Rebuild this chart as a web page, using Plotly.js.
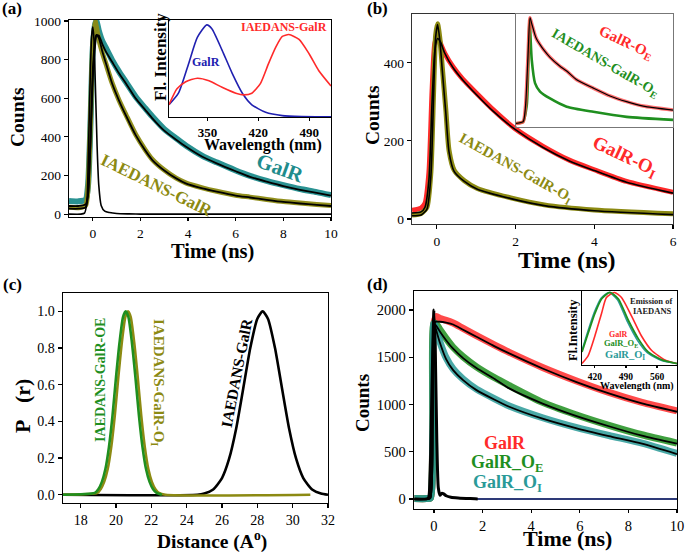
<!DOCTYPE html>
<html>
<head>
<meta charset="utf-8">
<script src="https://cdn.plot.ly/plotly-3.0.1.min.js"></script>
<style>html,body{margin:0;padding:0;background:#fff;}#plot{width:685px;height:552px;}</style>
</head>
<body>
<div id="plot"></div>
<script>
// ---------- Panel (a): decay of GalR and IAEDANS-GalR ----------
const tA        = [-1, -0.6, -0.3, -0.2, -0.1, 0, 0.1, 0.15, 0.25, 0.4, 0.55, 0.8, 1.1, 1.4, 1.8, 2.2, 2.5, 3.0, 3.5, 3.9, 4.6, 5.2, 6.0, 6.6, 7.3, 8.0, 8.7, 9.4, 10];
const galrData  = [68, 66, 75, 150, 460, 860, 985, 1000, 950, 895, 860, 800, 738, 682, 608, 548, 505, 440, 392, 355, 302, 268, 226, 198, 172, 150, 130, 114, 98];
const galrFit   = [42, 42, 50, 100, 350, 700, 880, 925, 925, 880, 841, 790, 729, 675, 599, 540, 496, 432, 385, 350, 297, 263, 222, 193, 168, 145, 126, 110, 96];
const iaeData   = [35, 33, 45, 140, 480, 880, 1000, 970, 905, 835, 778, 682, 590, 512, 412, 333, 283, 228, 186, 162, 136, 118, 98, 88, 76, 65, 57, 50, 45];
const iaeFit    = [28, 28, 35, 100, 380, 750, 905, 928, 912, 842, 781, 680, 588, 508, 409, 330, 280, 226, 185, 159, 133, 116, 96, 86, 74, 63, 55, 48, 42];
const tIrfA     = [-1, -0.5, -0.35, -0.25, -0.18, -0.1, -0.05, 0, 0.05, 0.1, 0.18, 0.25, 0.35, 0.5, 0.7, 1.0, 1.5, 2, 10];
const irfA      = [0, 0, 5, 60, 350, 750, 920, 970, 900, 700, 350, 150, 45, 15, 8, 3, 1, 0, 0];
// inset (a): emission spectra
const wlGalR    = [297, 310, 324, 336, 349, 356, 370, 384, 398, 411, 430, 453, 480, 520];
const emGalR    = [0.126, 0.245, 0.55, 0.82, 0.95, 0.91, 0.69, 0.45, 0.245, 0.126, 0.048, 0.014, 0.005, 0.003];
const wlIae     = [297, 308, 320, 336, 352, 370, 389, 400, 411, 423, 434, 444, 453, 462, 476, 490, 503, 520];
const emIae     = [0.126, 0.29, 0.364, 0.40, 0.374, 0.306, 0.245, 0.228, 0.245, 0.347, 0.55, 0.72, 0.83, 0.85, 0.80, 0.65, 0.48, 0.32];

// ---------- Panel (b) ----------
const tB        = [-0.63, -0.4, -0.3, -0.2, -0.12, -0.05, 0.02, 0.1, 0.2, 0.41, 0.66, 1.01, 1.43, 1.98, 2.7, 3.38, 4.0, 4.82, 6.0];
const oiRedData = [22, 28, 40, 120, 330, 450, 468, 448, 425, 390, 358, 322, 280, 232, 186, 150, 126, 96, 68];
const oiRedFit  = [15, 18, 30, 100, 300, 430, 462, 452, 425, 388, 356, 318, 276, 230, 183, 148, 124, 94, 66];
const tB2       = [-0.63, -0.4, -0.25, -0.15, -0.08, -0.03, 0.02, 0.08, 0.14, 0.23, 0.31, 0.44, 0.7, 1.03, 1.88, 2.73, 4.0, 6.0];
const oiOlvData = [10, 14, 30, 120, 330, 470, 500, 460, 388, 278, 176, 125, 98, 78, 54, 36, 23, 13];
const oiOlvFit  = [8, 10, 25, 110, 320, 465, 498, 455, 380, 270, 172, 122, 96, 76, 52, 34, 21, 11];
// inset (b)
const tBiR      = [-0.6, -0.3, -0.2, -0.1, -0.01, 0.06, 0.2, 0.27, 0.41, 0.55, 0.83, 1.25, 1.53, 1.95, 2.65, 3.35, 4.05, 4.75, 6.0];
const oeRed     = [-0.017, 0.0, 0.15, 0.6, 0.985, 0.93, 0.82, 0.78, 0.73, 0.685, 0.61, 0.525, 0.48, 0.397, 0.318, 0.244, 0.19, 0.148, 0.11];
const tBiG      = [-0.6, -0.3, -0.15, -0.08, -0.03, 0.06, 0.2, 0.41, 0.83, 1.53, 2.65, 4.05, 6.0];
const oeGreen   = [-0.015, 0.0, 0.15, 0.55, 0.97, 0.59, 0.366, 0.285, 0.22, 0.142, 0.094, 0.046, 0.017];

// ---------- Panel (c): distance distributions ----------
const rOE       = [17, 18.8, 19.0, 19.2, 19.4, 19.6, 19.8, 20.0, 20.2, 20.4, 20.55, 20.7, 20.9, 21.1, 21.3, 21.5, 21.7, 21.9, 22.1, 22.3, 22.6];
const pOE       = [0, 0.01, 0.03, 0.07, 0.14, 0.26, 0.43, 0.64, 0.83, 0.97, 1.0, 0.97, 0.83, 0.64, 0.43, 0.26, 0.14, 0.07, 0.03, 0.01, 0];
const rOI       = [17, 18.95, 19.13, 19.33, 19.53, 19.73, 19.93, 20.13, 20.33, 20.53, 20.68, 20.83, 21.03, 21.23, 21.43, 21.63, 21.83, 22.03, 22.23, 22.43, 22.8, 31];
const pOI       = [0, 0.01, 0.03, 0.07, 0.14, 0.26, 0.43, 0.64, 0.83, 0.97, 1.0, 0.97, 0.83, 0.64, 0.43, 0.26, 0.14, 0.07, 0.03, 0.01, 0, 0];
const rGalR     = [17, 24.6, 25.0, 25.5, 26.0, 26.4, 26.8, 27.2, 27.6, 28.0, 28.3, 28.6, 29.0, 29.4, 29.8, 30.2, 30.6, 31.1, 31.6, 32];
const pGalR     = [0, 0, 0.007, 0.029, 0.091, 0.195, 0.36, 0.578, 0.80, 0.96, 1.0, 0.96, 0.80, 0.578, 0.36, 0.195, 0.091, 0.029, 0.007, 0];

// ---------- Panel (d) ----------
const tD        = [-0.8, -0.3, -0.15, -0.05, 0, 0.1, 0.25, 0.5, 0.79, 1.2, 1.75, 2.5, 3.1, 4.47, 5.84, 7.2, 8.56, 10];
const dRedData  = [5, 5, 10, 700, 1860, 1930, 1910, 1890, 1862, 1805, 1728, 1628, 1552, 1392, 1252, 1128, 1022, 932];
const dRedFit   = [0, 0, 10, 800, 1860, 1875, 1875, 1865, 1846, 1790, 1716, 1615, 1540, 1381, 1240, 1117, 1011, 923];
const dOEData   = [5, 5, 10, 700, 1860, 1850, 1790, 1700, 1605, 1505, 1398, 1282, 1200, 1022, 892, 780, 680, 592];
const dOEFit    = [0, 0, 10, 800, 1860, 1830, 1770, 1680, 1590, 1490, 1385, 1270, 1170, 1010, 880, 770, 670, 585];
const dOIData   = [5, 5, 10, 700, 1860, 1790, 1660, 1495, 1375, 1268, 1162, 1060, 985, 860, 758, 672, 592, 482];
const dOIFit    = [0, 0, 10, 800, 1860, 1780, 1650, 1480, 1364, 1258, 1152, 1050, 976, 850, 750, 665, 585, 475];
const tIrfD     = [-0.8, -0.3, -0.22, -0.15, -0.08, 0, 0.06, 0.12, 0.18, 0.25, 0.32, 0.4, 0.5, 0.7, 1.0, 1.5, 1.8];
const irfD      = [0, 2, 15, 300, 1200, 2000, 1500, 600, 120, 40, 60, 55, 35, 20, 12, 5, 2];
const tBaseD    = [1.6, 10];
const baseD     = [2, 2];
// inset (d)
const wlDRed    = [391, 405, 420, 435, 446, 464, 480, 503, 525, 548, 578, 605];
const emDRed    = [0.02, 0.13, 0.40, 0.71, 0.93, 1.0, 0.93, 0.67, 0.40, 0.20, 0.07, 0.02];
const wlDOE     = [391, 405, 420, 435, 454, 473, 495, 518, 540, 571, 605];
const emDOE     = [0.18, 0.44, 0.71, 0.91, 1.0, 0.91, 0.62, 0.36, 0.18, 0.07, 0.02];
const wlDOI     = [391, 404, 419, 434, 452, 471, 493, 516, 538, 569, 605];
const emDOI     = [0.2, 0.46, 0.73, 0.92, 1.0, 0.9, 0.6, 0.34, 0.17, 0.065, 0.02];

// ---------- colours ----------
const TEAL = '#1f8c8c', OLIVE = '#8c8a12', RED = '#ff2a2a', BLUE = '#2020b0', GREEN = '#1f8f1f', DTEAL = '#2a9a98';

const W = 685, H = 552;
const dx = (a, b) => [a / W, b / W];
const dy = (a, b) => [1 - b / H, 1 - a / H];
const FONT = 'Liberation Serif';

function tf(size, bold) {
  const f = {family: FONT, size: size, color: 'black'};
  if (bold) f.weight = 'bold';
  return f;
}
function ax(o) {
  return Object.assign({
    showline: true, mirror: true, linecolor: 'black', linewidth: 1.4,
    ticks: 'outside', ticklen: 4, tickwidth: 1.2, tickcolor: 'black',
    showgrid: false, zeroline: false, tickfont: tf(14)
  }, o);
}
function ln(x, y, xa, ya, color, width, extra) {
  return Object.assign({x: x, y: y, xaxis: xa, yaxis: ya, mode: 'lines', hoverinfo: 'skip',
    line: {color: color, width: width, shape: 'spline', smoothing: 0.6}}, extra || {});
}

const traces = [
  // (a)
  ln(tA, galrData, 'x', 'y', TEAL, 6, {opacity: 0.95}),
  ln(tA, iaeData, 'x', 'y', OLIVE, 5, {opacity: 0.95}),
  ln(tIrfA, irfA, 'x', 'y', 'black', 1.6),
  ln(tA, galrFit, 'x', 'y', 'black', 1.8),
  ln(tA, iaeFit, 'x', 'y', 'black', 1.8),
  ln(wlGalR, emGalR, 'x2', 'y2', BLUE, 1.6),
  ln(wlIae, emIae, 'x2', 'y2', RED, 1.6),
  // (b)
  ln(tB, oiRedData, 'x3', 'y3', RED, 5),
  ln(tB2, oiOlvData, 'x3', 'y3', OLIVE, 5),
  ln(tB, oiRedFit, 'x3', 'y3', 'black', 1.6),
  ln(tB2, oiOlvFit, 'x3', 'y3', 'black', 1.6),
  ln(tBiG, oeGreen, 'x4', 'y4', GREEN, 2.6),
  ln(tBiR, oeRed, 'x4', 'y4', '#ff4040', 3.5, {opacity: 0.75}),
  ln(tBiR, oeRed, 'x4', 'y4', 'black', 1.2),
  // (c)
  ln(rGalR, pGalR, 'x5', 'y5', 'black', 2.6),
  ln(rOI, pOI, 'x5', 'y5', OLIVE, 2.6),
  ln(rOE, pOE, 'x5', 'y5', GREEN, 2.6),
  // (d)
  ln(tD, dRedData, 'x6', 'y6', RED, 7, {opacity: 0.85}),
  ln(tD, dOEData, 'x6', 'y6', GREEN, 7, {opacity: 0.85}),
  ln(tD, dOIData, 'x6', 'y6', DTEAL, 7, {opacity: 0.85}),
  ln(tD, dRedFit, 'x6', 'y6', 'black', 1.8),
  ln(tD, dOEFit, 'x6', 'y6', 'black', 1.8),
  ln(tD, dOIFit, 'x6', 'y6', 'black', 1.8),
  ln(tBaseD, baseD, 'x6', 'y6', '#2e3a78', 2),
  ln(tIrfD, irfD, 'x6', 'y6', 'black', 3),
  ln(wlDOI, emDOI, 'x7', 'y7', DTEAL, 1.6),
  ln(wlDRed, emDRed, 'x7', 'y7', RED, 1.6),
  ln(wlDOE, emDOE, 'x7', 'y7', GREEN, 1.8)
];

function A(text, px, py, size, color, angle, extra) {
  return Object.assign({text: text, xref: 'paper', yref: 'paper', x: px / W, y: 1 - py / H,
    xanchor: 'center', yanchor: 'middle', showarrow: false, textangle: angle || 0,
    font: {family: FONT, size: size, color: color}}, extra || {});
}

const annotations = [
  A('<b>(a)</b>', 12, 9, 17, 'black'),
  A('<b>(b)</b>', 377, 9, 17, 'black'),
  A('<b>(c)</b>', 12, 284, 17, 'black'),
  A('<b>(d)</b>', 377, 284, 17, 'black'),
  // (a)
  A('<b>Counts</b>', 18, 117, 19.5, 'black', -90),
  A('<b>Time (ns)</b>', 213, 251, 20.5, 'black'),
  A('<b>Fl. Intensity</b>', 160, 57, 17, 'black', -90),
  A('<b>Wavelength (nm)</b>', 263, 145, 16, 'black'),
  A('<b>GalR</b>', 206, 62, 12, BLUE),
  A('<b>IAEDANS-GalR</b>', 284, 27, 12, RED),
  A('<b>GalR</b>', 280, 168, 21, TEAL, 20),
  A('<b>IAEDANS-GalR</b>', 157, 185, 17, OLIVE, 26),
  // (b)
  A('<b>Counts</b>', 372, 115, 19.5, 'black', -90),
  A('<b>Time (ns)</b>', 567, 260, 24, 'black'),
  A('<b>GalR-O<sub>I</sub></b>', 625, 157, 19, RED, 25),
  A('<b>IAEDANS-GalR-O<sub>I</sub></b>', 515, 168, 15, OLIVE, 29),
  A('<b>GalR-O<sub>E</sub></b>', 626, 43, 15, RED, 25),
  A('<b>IAEDANS-GalR-O<sub>E</sub></b>', 605, 64, 14, GREEN, 30),
  // (c)
  A('<b>P&nbsp;&nbsp;&nbsp;(r)</b>', 22, 406, 22, 'black', -90),
  A('<b>Distance (A<sup>o</sup>)</b>', 212, 540, 19.5, 'black'),
  A('<b>IAEDANS-GalR-OE</b>', 100, 380, 14, GREEN, -90),
  A('<b>IAEDANS-GalR-O<sub>I</sub></b>', 158, 382, 15, OLIVE, 90),
  A('<b>IAEDANS-GalR</b>', 236, 373, 15.5, 'black', -79),
  // (d)
  A('<b>Counts</b>', 362, 403, 19, 'black', -90),
  A('<b>Time (ns)</b>', 567, 538, 22, 'black'),
  A('<b>GalR</b>', 505, 443, 18, RED),
  A('<b>GalR_O<sub>E</sub></b>', 507, 463, 18, GREEN),
  A('<b>GalR_O<sub>I</sub></b>', 507, 483, 18, DTEAL),
  A('<b>Fl.Intensity</b>', 573, 330, 12.5, 'black', -90),
  A('<b>Wavelength (nm)</b>', 637, 386, 10, 'black'),
  A('<b>Emission of</b>', 651, 301, 8.5, '#222'),
  A('<b>IAEDANS</b>', 652, 311, 8.5, '#222'),
  A('<b>GalR</b>', 618, 334, 8, RED),
  A('<b>GalR_O<sub>E</sub></b>', 621, 343, 8.5, GREEN),
  A('<b>GalR_O<sub>I</sub></b>', 625, 355, 10.5, DTEAL)
];

const layout = {
  width: W, height: H, margin: {l: 0, r: 0, t: 0, b: 0},
  paper_bgcolor: 'white', plot_bgcolor: 'rgba(0,0,0,0)', showlegend: false,
  font: {family: FONT, color: 'black'},
  xaxis:  ax({domain: dx(69, 331), range: [-1, 10], tick0: 0, dtick: 2, anchor: 'y', ticklen: 3, tickfont: tf(13.5)}),
  yaxis:  ax({domain: dy(20, 217), range: [-15, 1005], tick0: 0, dtick: 200, anchor: 'x', tickfont: tf(13.5)}),
  xaxis2: ax({domain: dx(169, 331), range: [297, 520], tickvals: [350, 420, 490], ticklen: 3, anchor: 'y2',
              tickfont: tf(13, true)}),
  yaxis2: ax({domain: dy(20, 117), range: [0, 1], ticks: '', showticklabels: false, anchor: 'x2'}),
  xaxis3: ax({domain: dx(412, 673), range: [-0.63, 6], tick0: 0, dtick: 2, anchor: 'y3', linecolor: '#333', tickfont: tf(13.5)}),
  yaxis3: ax({domain: dy(14, 224), range: [-13, 525], tickvals: [0, 200, 400], anchor: 'x3', linecolor: '#333', tickfont: tf(13.5)}),
  xaxis4: ax({domain: dx(516, 673), range: [-0.6, 6], ticks: '', showticklabels: false, linecolor: '#777', linewidth: 1.2, anchor: 'y4'}),
  yaxis4: ax({domain: dy(14, 127), range: [-0.05, 1.02], ticks: '', showticklabels: false, linecolor: '#777', linewidth: 1.2, anchor: 'x4'}),
  xaxis5: ax({domain: dx(63, 328), range: [17, 32], tick0: 18, dtick: 2, anchor: 'y5', tickfont: tf(14)}),
  yaxis5: ax({domain: dy(293, 503), range: [-0.045, 1.1], tick0: 0, dtick: 0.2, tickformat: '.1f', anchor: 'x5', tickfont: tf(14)}),
  xaxis6: ax({domain: dx(414, 677), range: [-0.82, 10], tick0: 0, dtick: 2, anchor: 'y6', ticklen: 3, tickfont: tf(14.5)}),
  yaxis6: ax({domain: dy(291, 509), range: [-105, 2200], tick0: 0, dtick: 500, anchor: 'x6', tickfont: tf(14.5)}),
  xaxis7: ax({domain: dx(582, 677), range: [391, 605], tickvals: [420, 490, 560], ticklen: 2, anchor: 'y7',
              linewidth: 1.2, tickfont: tf(9.5, true)}),
  yaxis7: ax({domain: dy(291, 365), range: [0, 1.02], ticks: '', showticklabels: false, linewidth: 1.2, anchor: 'x7'}),
  annotations: annotations
};

Plotly.newPlot('plot', traces, layout, {staticPlot: true, displayModeBar: false});
</script>
</body>
</html>
